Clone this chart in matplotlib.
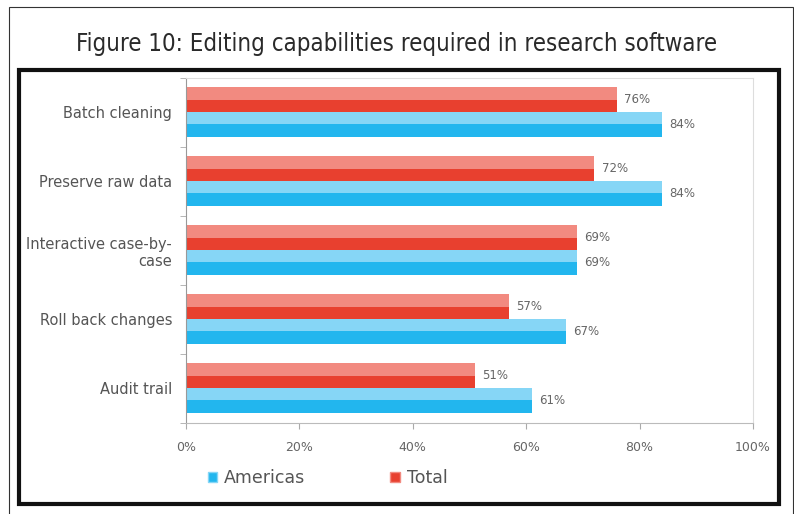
import matplotlib
matplotlib.use("Agg")
import matplotlib.pyplot as plt
from matplotlib.patches import Rectangle, Patch
import numpy as np

categories = ["Batch cleaning", "Preserve raw data", "Interactive case-by-\ncase",
              "Roll back changes", "Audit trail"]
americas = [84, 84, 69, 67, 61]
total = [76, 72, 69, 57, 51]
xticks = [0, 20, 40, 60, 80, 100]
xtick_labels = ["0%", "20%", "40%", "60%", "80%", "100%"]
title = "Figure 10: Editing capabilities required in research software"

W, H = 794, 514
fig = plt.figure(figsize=(W / 100, H / 100), dpi=100)
fig.patch.set_facecolor("white")

# outer thin frame and thick inner box
fig.patches.append(Rectangle((9 / W, -0.05), (793 - 9) / W, 1.05 - 7 / H,
                             transform=fig.transFigure, fill=False,
                             edgecolor="#333333", linewidth=0.8))
fig.patches.append(Rectangle((19 / W, 1 - 504 / H), (779 - 19) / W, (504 - 70) / H,
                             transform=fig.transFigure, fill=False,
                             edgecolor="#111111", linewidth=3.0))

fig.text(0.5, 1 - 44 / H, title, ha="center", va="center", fontsize=17.2,
         family=["Liberation Sans Narrow", "DejaVu Sans"], color="#2a2a2a",
         fontstretch="condensed", fontweight="medium")

ax = fig.add_axes([186 / W, 1 - 422.5 / H, 567 / W, 345 / H])
y = np.arange(len(categories))
h = 0.36
red_dark, red_light = "#E8402F", "#F28A80"
blue_dark, blue_light = "#22B6EE", "#86D6F6"

ax.barh(y - h / 2, total, height=h, color=red_dark, edgecolor="none")
ax.barh(y - h * 3 / 4, total, height=h / 2, color=red_light, edgecolor="none")
ax.barh(y + h / 2, americas, height=h, color=blue_dark, edgecolor="none")
ax.barh(y + h / 4, americas, height=h / 2, color=blue_light, edgecolor="none")

for i, (t, a) in enumerate(zip(total, americas)):
    ax.text(t + 1.3, i - h / 2, f"{t}%", va="center", ha="left", fontsize=8.5, color="#666666")
    ax.text(a + 1.3, i + h / 2, f"{a}%", va="center", ha="left", fontsize=8.5, color="#666666")

ax.set_xlim(0, 100)
ax.set_ylim(len(categories) - 0.5, -0.5)
ax.set_xticks(xticks)
ax.set_xticklabels(xtick_labels, fontsize=9, color="#666666")
ax.set_yticks(y)
ax.set_yticklabels(categories, fontsize=10.5, color="#555555")
ax.set_yticks(np.arange(len(categories) + 1) - 0.5, minor=True)
ax.tick_params(axis="y", which="major", length=0, pad=10)
ax.tick_params(axis="y", which="minor", length=4, color="#aaaaaa")
ax.tick_params(axis="x", length=4, color="#aaaaaa", pad=9)
for lab in ax.get_yticklabels():
    lab.set_multialignment("right")
ax.spines["left"].set_color("#999999")
ax.spines["bottom"].set_color("#bbbbbb")
ax.spines["top"].set_color("#dddddd")
ax.spines["right"].set_color("#dddddd")

handles = [Patch(facecolor=blue_dark, edgecolor=blue_light, label="Americas"),
           Patch(facecolor=red_dark, edgecolor=red_light, label="Total")]
fig.legend(handles=handles, loc="center left", bbox_to_anchor=(192 / W, 1 - 478 / H),
           ncol=2, frameon=False, fontsize=12.5, handlelength=0.55, handleheight=0.55,
           handletextpad=0.4, columnspacing=4.9, labelcolor="#555555")

fig.savefig("out.png", dpi=100)
